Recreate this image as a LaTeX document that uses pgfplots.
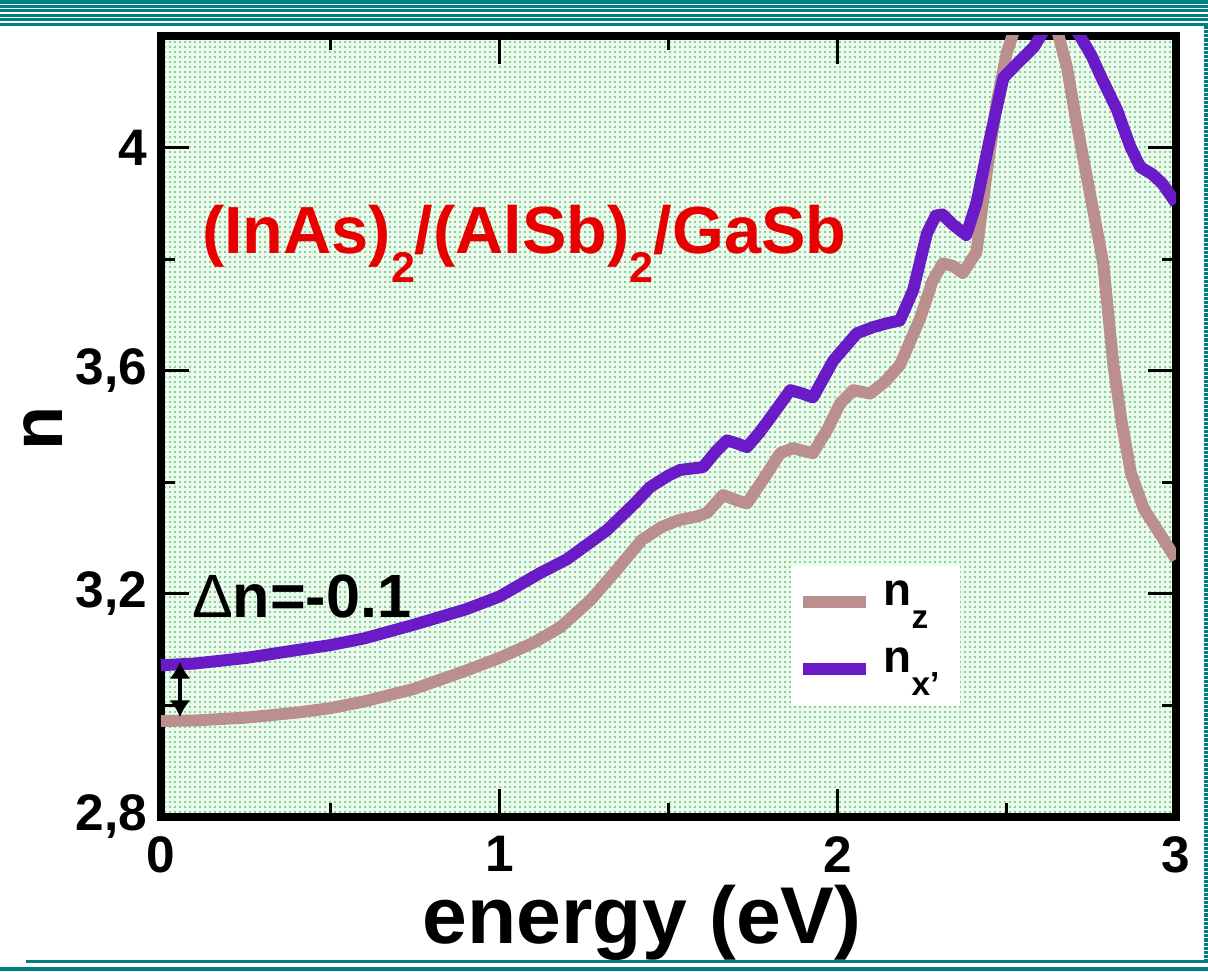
\documentclass[border=0pt]{standalone}
\usepackage{fontspec}
\setmainfont{Liberation Sans}
\usepackage{pgfplots}
\pgfplotsset{compat=1.18}
\usetikzlibrary{patterns.meta,arrows.meta}
\definecolor{nzcol}{RGB}{188,143,143}
\definecolor{nxcol}{RGB}{106,26,198}
\definecolor{bgmint}{RGB}{234,252,236}
\definecolor{dotcol}{RGB}{118,184,134}
\definecolor{stripe}{RGB}{0,128,128}
\definecolor{titlered}{RGB}{232,0,0}
\newcommand\lsub[1]{\raisebox{-8.3pt}{\fontsize{12}{12}\selectfont #1}}
\newcommand\tsub[1]{\raisebox{-10.4pt}{\fontsize{15.5}{15.5}\selectfont #1}}
\pgfplotstableread{
E n
0.00 2.972
0.10 2.973
0.25 2.978
0.40 2.987
0.50 2.995
0.60 3.007
0.75 3.030
0.90 3.062
1.00 3.085
1.10 3.112
1.18 3.140
1.27 3.189
1.35 3.245
1.42 3.296
1.48 3.320
1.53 3.332
1.58 3.338
1.614 3.345
1.661 3.377
1.70 3.368
1.732 3.362
1.78 3.405
1.83 3.452
1.868 3.461
1.90 3.456
1.927 3.452
1.97 3.495
2.007 3.541
2.046 3.565
2.096 3.559
2.14 3.580
2.184 3.610
2.244 3.694
2.28 3.760
2.31 3.792
2.34 3.788
2.37 3.775
2.41 3.812
2.44 3.952
2.47 4.080
2.50 4.170
2.53 4.225
2.57 4.290
2.61 4.290
2.64 4.230
2.678 4.143
2.705 4.048
2.745 3.920
2.785 3.792
2.815 3.610
2.84 3.506
2.867 3.416
2.905 3.352
2.95 3.310
3.00 3.262
}\nzdata
\pgfplotstableread{
E n
0.00 3.072
0.10 3.075
0.25 3.085
0.40 3.099
0.50 3.108
0.60 3.120
0.75 3.145
0.90 3.172
1.00 3.195
1.12 3.237
1.20 3.262
1.318 3.314
1.40 3.362
1.445 3.391
1.50 3.412
1.534 3.422
1.602 3.427
1.64 3.455
1.673 3.475
1.70 3.470
1.732 3.463
1.77 3.490
1.81 3.523
1.86 3.565
1.89 3.560
1.927 3.552
1.987 3.618
2.057 3.667
2.105 3.678
2.14 3.684
2.184 3.690
2.223 3.744
2.264 3.846
2.29 3.878
2.31 3.880
2.34 3.862
2.38 3.843
2.41 3.900
2.45 4.016
2.49 4.125
2.53 4.150
2.58 4.180
2.62 4.220
2.67 4.240
2.716 4.200
2.75 4.165
2.776 4.130
2.826 4.067
2.864 4.003
2.894 3.965
2.93 3.952
2.96 3.935
3.00 3.900
}\nxdata
\begin{document}
\begin{tikzpicture}
\begin{axis}[
  at={(0,0)}, anchor=south west,
  scale only axis, width=365.4pt, height=281.2pt,
  xmin=0, xmax=3, ymin=2.8, ymax=4.2,
  axis background/.style={fill=bgmint, postaction={pattern={Dots[distance=1.8pt,radius=0.38pt]}, pattern color=dotcol}},
  axis line style={line width=2.9pt},
  tick style={black, line width=1.1pt},
  major tick length=10pt, minor tick length=5pt,
  tick align=inside,
  xtick={0,1,2,3}, minor x tick num=1,
  ytick={2.8,3.2,3.6,4.0}, yticklabels={{2,8},{3,2},{3,6},{4}}, minor y tick num=1,
  /pgf/number format/assume math mode=true,
  ticklabel style={font=\fontsize{18.5}{20}\selectfont\bfseries, inner sep=0pt},
  xticklabel style={yshift=-6.8pt},
  yticklabel style={xshift=-4.7pt},
  xlabel={energy (eV)},
  xlabel style={at={(axis description cs:0.474,-0.162)}, anchor=base, font=\fontsize{29}{30}\selectfont\bfseries, inner sep=0pt},
  ylabel={n},
  ylabel style={at={(axis description cs:-0.0974,0.498)}, anchor=base, font=\fontsize{26}{28}\selectfont\bfseries, inner sep=0pt},
  no markers,
  legend cell align=left,
  legend style={at={(axis cs:1.859,3.251)}, anchor=north west, fill=white, draw=none,
    inner xsep=2.5pt, inner ysep=5.4pt, row sep=8.6pt,
    font=\fontsize{16.5}{18}\selectfont\bfseries,
    nodes={inner sep=0pt, text height=9pt, text depth=6.5pt, text width=25pt},
    /tikz/every odd column/.append style={column sep=4pt}},
  legend image code/.code={\draw[#1] (0pt,0pt) -- (22.7pt,0pt);},
]
\addplot[nzcol, line width=4.3pt, line join=round] table[x=E,y=n] {\nzdata};
\addlegendentry{n\lsub{z}}
\addplot[nxcol, line width=4.3pt, line join=round] table[x=E,y=n] {\nxdata};
\addlegendentry{n\lsub{x'}}
\node[anchor=base west, inner sep=0pt, text=titlered, font=\fontsize{24}{25}\selectfont\bfseries] at (axis cs:0.12,3.81) {(InAs)\tsub{2}/(AlSb)\tsub{2}/GaSb};
\node[anchor=base west, inner sep=0pt, font=\fontsize{22}{24}\selectfont] at (axis cs:0.09,3.158) {Δ\textbf{n=-0.1}};
\draw[{Latex[length=6pt,width=7.5pt]}-{Latex[length=6pt,width=7.5pt]}, line width=1.6pt] (axis cs:0.056,3.078) -- (axis cs:0.056,2.979);
\end{axis}
\begin{scope}[x=0.36pt,y=-0.36pt,shift={(-57.96pt,294.12pt)}]
  \foreach \k in {0,...,5} \draw[stripe, line width=1.1pt] (0,{2+4.45*\k}) -- (1208,{2+4.45*\k});
  \draw[stripe, line width=1.45pt, dash pattern=on 1.1pt off 0.4pt] (1206,26) -- (1206,960);
  \draw[stripe, line width=1.2pt] (26,961.5) -- (1208,961.5);
  \draw[stripe, line width=1.6pt] (0,968.8) -- (1208,968.8);
\end{scope}
\pgfresetboundingbox
\useasboundingbox (-57.96pt,-55.8pt) rectangle (376.92pt,294.12pt);
\end{tikzpicture}
\end{document}
